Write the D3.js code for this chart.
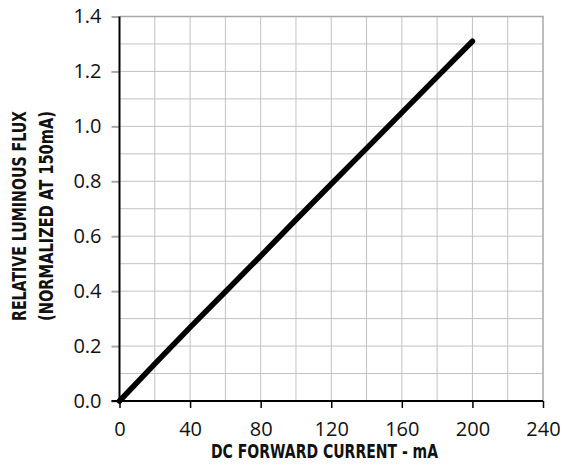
<!DOCTYPE html>
<html>
<head>
<meta charset="utf-8">
<script src="https://cdn.jsdelivr.net/npm/d3@7"></script>
<style>
  body { margin: 0; background: #fff; }
  svg { display: block; }
</style>
</head>
<body>
<svg id="chart" width="561" height="468"></svg>
<script>
// values
const currentMa = [0, 20, 40, 60, 80, 100, 120, 140, 160, 180, 200];
const relFlux = [0, 0.135, 0.268, 0.398, 0.528, 0.66, 0.79, 0.92, 1.05, 1.18, 1.31];
const xTicks = [0, 40, 80, 120, 160, 200, 240];
const yTicks = [0, 0.2, 0.4, 0.6, 0.8, 1.0, 1.2, 1.4];
const xTitle = 'DC FORWARD CURRENT - mA';
const yTitle = ['RELATIVE LUMINOUS FLUX', '(NORMALIZED AT 150mA)'];

const margin = { left: 119.5, right: 18, top: 16.5, bottom: 67 };
const W = 561, H = 468;

const svg = d3.select('#chart');

const x = d3.scaleLinear().domain([0, 240]).range([margin.left, W - margin.right]);
const y = d3.scaleLinear().domain([0, 1.4]).range([H - margin.bottom, margin.top]);

// grid every 20 mA / 0.1
const grid = svg.append('g').attr('stroke', '#c2c2c2').attr('stroke-width', 1);
grid.selectAll('line.v').data(d3.range(20, 240, 20)).enter().append('line')
  .attr('x1', d => x(d)).attr('x2', d => x(d))
  .attr('y1', y(0)).attr('y2', y(1.4));
grid.selectAll('line.h').data(d3.range(1, 14)).enter().append('line')
  .attr('x1', x(0)).attr('x2', x(240))
  .attr('y1', d => y(d / 10)).attr('y2', d => y(d / 10));

// top / right frame
svg.append('path')
  .attr('d', `M${x(0)},${y(1.4)}H${x(240)}V${y(0)}`)
  .attr('fill', 'none').attr('stroke', '#a8a8a8').attr('stroke-width', 1.5);

// y axis (gray ticks)
const yAxis = svg.append('g')
  .attr('transform', `translate(${x(0)},0)`)
  .call(d3.axisLeft(y).tickValues(yTicks).tickFormat(d3.format('.1f')).tickSize(8).tickPadding(10));
yAxis.select('.domain').remove();
yAxis.selectAll('.tick line').attr('stroke', '#a8a8a8').attr('stroke-width', 2);
yAxis.selectAll('.tick text')
  .attr('font-family', '"Open Sans", sans-serif').attr('font-size', 20).attr('fill', '#111');
svg.append('line')
  .attr('x1', x(0)).attr('x2', x(0)).attr('y1', y(0)).attr('y2', y(1.4))
  .attr('stroke', '#000').attr('stroke-width', 2);

// x axis
const xAxis = svg.append('g')
  .attr('transform', `translate(0,${y(0)})`)
  .call(d3.axisBottom(x).tickValues(xTicks).tickSize(7).tickPadding(14).tickSizeOuter(0));
xAxis.select('.domain').attr('stroke', '#000').attr('stroke-width', 2)
  .attr('d', `M${x(0) - 8},0H${x(240)}`);
xAxis.selectAll('.tick line').attr('stroke', '#000').attr('stroke-width', 1.5);
xAxis.selectAll('.tick text')
  .attr('font-family', '"Open Sans", sans-serif').attr('font-size', 20).attr('fill', '#111');

// data line
const line = d3.line().x((d, i) => x(currentMa[i])).y(d => y(d));
svg.append('path')
  .datum(relFlux)
  .attr('d', line)
  .attr('fill', 'none')
  .attr('stroke', '#000')
  .attr('stroke-width', 5.5)
  .attr('stroke-linecap', 'round')
  .attr('stroke-linejoin', 'round');

// titles
const titleFont = '"DejaVu Sans", sans-serif';
svg.append('text')
  .attr('x', 324.5).attr('y', 458)
  .attr('text-anchor', 'middle')
  .attr('font-family', titleFont).attr('font-weight', 'bold').attr('font-size', 19)
  .attr('textLength', 227).attr('lengthAdjust', 'spacingAndGlyphs')
  .attr('fill', '#111')
  .text(xTitle);

svg.selectAll('text.ytitle').data(yTitle).enter().append('text')
  .attr('class', 'ytitle')
  .attr('transform', (d, i) => `translate(${i === 0 ? 25.5 : 52.5},216) rotate(-90)`)
  .attr('text-anchor', 'middle')
  .attr('font-family', titleFont).attr('font-weight', 'bold').attr('font-size', 19)
  .attr('textLength', 210).attr('lengthAdjust', 'spacingAndGlyphs')
  .attr('fill', '#111')
  .text(d => d);
</script>
</body>
</html>
